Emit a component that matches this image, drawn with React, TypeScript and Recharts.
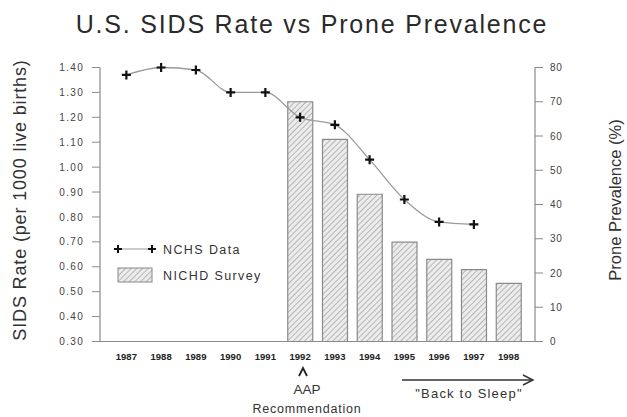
import React from 'react';
import { ComposedChart, Bar, Line, XAxis, YAxis } from 'recharts';

const years = ['1987', '1988', '1989', '1990', '1991', '1992', '1993', '1994', '1995', '1996', '1997', '1998'];
const nchsRate: (number | null)[] = [1.37, 1.4, 1.39, 1.3, 1.3, 1.2, 1.17, 1.03, 0.87, 0.78, 0.77, null];
const nichdProne: (number | null)[] = [null, null, null, null, null, 70, 59, 43, 29, 24, 21, 17];
const leftTicks = [0.3, 0.4, 0.5, 0.6, 0.7, 0.8, 0.9, 1.0, 1.1, 1.2, 1.3, 1.4];
const rightTicks = [0, 10, 20, 30, 40, 50, 60, 70, 80];
const legendLabels = ['NCHS Data', 'NICHD Survey'];

const data = years.map((y, i) => ({ year: y, nchs: nchsRate[i], nichd: nichdProne[i] }));

const FONT = '"Liberation Sans", Arial, Helvetica, sans-serif';
const AXIS = '#8a8a8a';

const PlusDot = (props: any) => {
  const { cx, cy, index } = props;
  if (cx == null || cy == null || props.value == null) return <g key={`d${index}`} />;
  const s = 4.5;
  return (
    <path
      key={`d${index}`}
      d={`M${cx - s},${cy}H${cx + s}M${cx},${cy - s}V${cy + s}`}
      stroke="#111"
      strokeWidth={2.2}
      fill="none"
    />
  );
};

export default function App() {
  return (
    <div style={{ position: 'absolute', left: 0, top: 0, width: 627, height: 417, background: '#fff' }}>
      <svg width={0} height={0} style={{ position: 'absolute' }}>
        <defs>
          <pattern id="hatch" patternUnits="userSpaceOnUse" width={4} height={4} patternTransform="rotate(45)">
            <rect x={0} y={0} width={4} height={4} fill="#ececec" />
            <line x1={0} y1={0} x2={0} y2={4} stroke="#a8a8a8" strokeWidth={1.6} />
          </pattern>
        </defs>
      </svg>
      <ComposedChart width={627} height={417} data={data} margin={{ top: 67.5, right: 0, bottom: 0, left: 0 }}>
        <XAxis
          dataKey="year"
          height={75.5}
          padding={{ left: 9, right: 9 }}
          axisLine={{ stroke: AXIS, strokeWidth: 1.2 }}
          tickLine={false}
          tickSize={0}
          tickMargin={12}
          interval={0}
          tick={{ fontFamily: FONT, fontSize: 9.5, fontWeight: 'bold', fill: '#222' }}
        />
        <YAxis
          yAxisId="left"
          width={100}
          domain={[0.3, 1.4]}
          ticks={leftTicks}
          interval={0}
          tickFormatter={(v: number) => v.toFixed(2)}
          axisLine={{ stroke: AXIS, strokeWidth: 1.2 }}
          tickLine={{ stroke: AXIS }}
          tickSize={8}
          tickMargin={8}
          tick={{ fontFamily: FONT, fontSize: 10, fill: '#444', letterSpacing: 1.3 }}
        />
        <YAxis
          yAxisId="right"
          orientation="right"
          width={92}
          domain={[0, 80]}
          ticks={rightTicks}
          interval={0}
          axisLine={{ stroke: AXIS, strokeWidth: 1.2 }}
          tickLine={{ stroke: AXIS }}
          tickSize={8}
          tickMargin={7}
          tick={{ fontFamily: FONT, fontSize: 10, fill: '#444', letterSpacing: 0.8 }}
        />
        <Bar
          yAxisId="right"
          dataKey="nichd"
          barSize={25}
          fill="url(#hatch)"
          stroke="#8a8a8a"
          strokeWidth={1.2}
          isAnimationActive={false}
        />
        <Line
          yAxisId="left"
          dataKey="nchs"
          type="monotone"
          stroke="#9a9a9a"
          strokeWidth={1.3}
          dot={PlusDot}
          activeDot={false}
          connectNulls={false}
          isAnimationActive={false}
        />
      </ComposedChart>
      <svg
        width={627}
        height={417}
        style={{ position: 'absolute', left: 0, top: 0, pointerEvents: 'none' }}
      >
        <g transform="translate(110,238)">
          <line x1={8} y1={11} x2={42} y2={11} stroke="#999" strokeWidth={1.2} />
          <path d="M4,11H12M8,7V15M38,11H46M42,7V15" stroke="#111" strokeWidth={2} />
          <text x={53} y={15.5} fontFamily={FONT} fontSize={12.5} letterSpacing={1.4} fill="#333">{legendLabels[0]}</text>
          <rect x={8} y={30} width={34} height={14} fill="url(#hatch)" stroke="#888" strokeWidth={1} />
          <text x={53} y={41.5} fontFamily={FONT} fontSize={12.5} letterSpacing={1.4} fill="#333">{legendLabels[1]}</text>
        </g>
        <text x={312} y={33} textAnchor="middle" fontFamily={FONT} fontSize={25} letterSpacing={1.8} fill="#2a2a2a">
          U.S. SIDS Rate vs Prone Prevalence
        </text>
        <text
          transform="translate(26,200) rotate(-90)"
          textAnchor="middle"
          fontFamily={FONT}
          fontSize={18}
          letterSpacing={0.85}
          fill="#333"
        >
          SIDS Rate (per 1000 live births)
        </text>
        <text
          transform="translate(621,200) rotate(-90)"
          textAnchor="middle"
          fontFamily={FONT}
          fontSize={16.5}
          fill="#333"
        >
          Prone Prevalence (%)
        </text>
        <path d="M299,376L303,368L307,376" stroke="#222" strokeWidth={1.8} fill="none" />
        <text x={307} y={394} textAnchor="middle" fontFamily={FONT} fontSize={13.5} fill="#333">AAP</text>
        <text x={307} y={413} textAnchor="middle" fontFamily={FONT} fontSize={12.5} letterSpacing={0.8} fill="#333">
          Recommendation
        </text>
        <line x1={402} y1={380} x2={532} y2={380} stroke="#333" strokeWidth={1.4} />
        <path d="M523,375L533,380L523,385" stroke="#333" strokeWidth={1.4} fill="none" />
        <text x={469} y={398} textAnchor="middle" fontFamily={FONT} fontSize={13} letterSpacing={1.2} fill="#333">
          "Back to Sleep"
        </text>
      </svg>
    </div>
  );
}
